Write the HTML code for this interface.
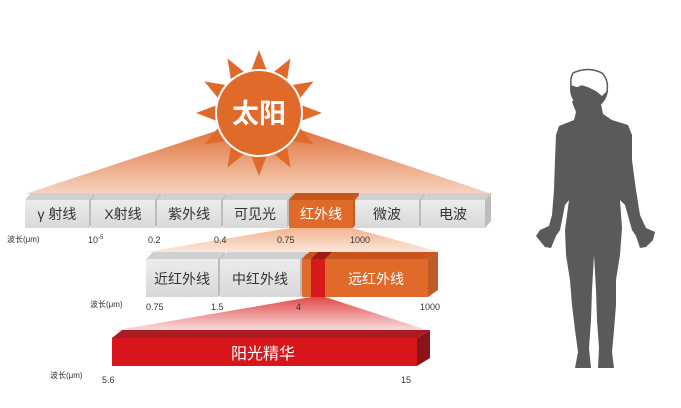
<!DOCTYPE html>
<html><head><meta charset="utf-8"><style>
html,body{margin:0;padding:0;background:#fff}
svg text{font-family:"Liberation Sans","Noto Sans CJK SC",sans-serif}
</style></head><body>
<svg width="681" height="403" viewBox="0 0 681 403" xmlns="http://www.w3.org/2000/svg">
<defs>
<linearGradient id="g1" x1="0" y1="0" x2="0" y2="1"><stop offset="0" stop-color="#e0703a"/><stop offset="1" stop-color="#f6d4c0"/></linearGradient>
<linearGradient id="g2" x1="0" y1="0" x2="0" y2="1"><stop offset="0" stop-color="#f3b48e"/><stop offset="1" stop-color="#fbe7dc"/></linearGradient>
<linearGradient id="g3" x1="0" y1="0" x2="0" y2="1"><stop offset="0" stop-color="#e04a4a"/><stop offset="1" stop-color="#fbe0e0"/></linearGradient>
<linearGradient id="gb" x1="0" y1="0" x2="0" y2="1"><stop offset="0" stop-color="#ececec"/><stop offset="1" stop-color="#d8d8d8"/></linearGradient>
</defs>
<polygon points="225,128 295,128 492,194 25,194" fill="url(#g1)"/>
<polygon points="290,228 352,228 440,252 146,252" fill="url(#g2)"/>
<polygon points="311,297 325,297 430,331 112,331" fill="url(#g3)"/>
<g transform="translate(259,113)" fill="#e06a2a">
<g id="ray"><polygon points="-8,-42 8,-42 0,-63"/></g>
<use href="#ray" transform="rotate(30)"/><use href="#ray" transform="rotate(60)"/><use href="#ray" transform="rotate(90)"/><use href="#ray" transform="rotate(120)"/><use href="#ray" transform="rotate(150)"/><use href="#ray" transform="rotate(180)"/><use href="#ray" transform="rotate(210)"/><use href="#ray" transform="rotate(240)"/><use href="#ray" transform="rotate(270)"/><use href="#ray" transform="rotate(300)"/><use href="#ray" transform="rotate(330)"/>
<circle r="43" fill="#e06a2a" stroke="#fff" stroke-width="2"/>
</g>
<text x="259" y="123" font-size="27" font-weight="bold" fill="#fff" text-anchor="middle">太阳</text>
<g>
<polygon points="25,200 31,193 95,193 89,200" fill="#d0d0d0"/><rect x="25" y="200" width="64" height="28" fill="url(#gb)"/><polygon points="89,200 95,193 95,221 89,228" fill="#bdbdbd"/>
<polygon points="91,200 97,193 161,193 155,200" fill="#d0d0d0"/><rect x="91" y="200" width="64" height="28" fill="url(#gb)"/><polygon points="155,200 161,193 161,221 155,228" fill="#bdbdbd"/>
<polygon points="157,200 163,193 227,193 221,200" fill="#d0d0d0"/><rect x="157" y="200" width="64" height="28" fill="url(#gb)"/><polygon points="221,200 227,193 227,221 221,228" fill="#bdbdbd"/>
<polygon points="223,200 229,193 293,193 287,200" fill="#d0d0d0"/><rect x="223" y="200" width="64" height="28" fill="url(#gb)"/><polygon points="287,200 293,193 293,221 287,228" fill="#bdbdbd"/>
<polygon points="289,200 295,193 359,193 353,200" fill="#c9551c"/><rect x="289" y="200" width="64" height="28" fill="#e06a2a"/><polygon points="353,200 359,193 359,221 353,228" fill="#c25a24"/>
<polygon points="355,200 361,193 425,193 419,200" fill="#d0d0d0"/><rect x="355" y="200" width="64" height="28" fill="url(#gb)"/><polygon points="419,200 425,193 425,221 419,228" fill="#bdbdbd"/>
<polygon points="421,200 427,193 491,193 485,200" fill="#d0d0d0"/><rect x="421" y="200" width="64" height="28" fill="url(#gb)"/><polygon points="485,200 491,193 491,221 485,228" fill="#bdbdbd"/>
</g>
<g font-size="14" fill="#333" text-anchor="middle">
<text x="57" y="219">γ 射线</text><text x="123" y="219">X射线</text><text x="189" y="219">紫外线</text><text x="255" y="219">可见光</text><text x="321" y="219" fill="#fff">红外线</text><text x="387" y="219">微波</text><text x="453" y="219">电波</text>
</g>
<g font-size="9" fill="#333">
<text x="7" y="242" font-size="8">波长(μm)</text>
<text x="88" y="243">10<tspan font-size="6" dy="-4">-5</tspan></text>
<text x="148" y="243">0.2</text><text x="214" y="243">0.4</text><text x="277" y="243">0.75</text><text x="350" y="243">1000</text>
</g>
<polygon points="146,259 153,252 225,252 218,259" fill="#d0d0d0"/><rect x="146" y="259" width="72" height="38" fill="url(#gb)"/><polygon points="218,259 225,252 225,290 218,297" fill="#bdbdbd"/>
<polygon points="220,259 227,252 307,252 300,259" fill="#d0d0d0"/><rect x="220" y="259" width="80" height="38" fill="url(#gb)"/><polygon points="300,259 307,252 307,290 300,297" fill="#bdbdbd"/>
<polygon points="302,259 309,252 438,252 428,259" fill="#c9551c"/><rect x="302" y="259" width="126" height="38" fill="#e06a2a"/><polygon points="428,259 438,252 438,290 428,297" fill="#c25a24"/>
<polygon points="311,259 318,252 332,252 325,259" fill="#a01a1a"/><rect x="311" y="259" width="14" height="38" fill="#d7191c"/>
<g font-size="14" fill="#333" text-anchor="middle">
<text x="182" y="284">近红外线</text><text x="260" y="284">中红外线</text><text x="376" y="284" fill="#fff">远红外线</text>
</g>
<g font-size="9" fill="#333">
<text x="90" y="307" font-size="8">波长(μm)</text>
<text x="146" y="310">0.75</text><text x="211" y="310">1.5</text><text x="296" y="310">4</text><text x="420" y="310">1000</text>
</g>
<polygon points="112,338 122,330 430,330 417,338" fill="#a81c22"/>
<rect x="112" y="338" width="305" height="28" fill="#d7151b"/>
<polygon points="417,338 430,330 430,358 417,366" fill="#8a1418"/>
<text x="263" y="359" font-size="16" fill="#fff" text-anchor="middle">阳光精华</text>
<g font-size="9" fill="#333">
<text x="50" y="378" font-size="8">波长(μm)</text>
<text x="102" y="383">5.6</text><text x="401" y="383">15</text>
</g>
<ellipse cx="589" cy="89" rx="19" ry="20" fill="#5a5a5a"/>
<path fill="#5a5a5a" d="M575,98 L572,102 L576,112 L574,120 L559,126 L556,135 L555,160 L554,190 L552,215 L549,226 L540,230 L536,236 L545,247 L551,248 L556,236 L560,230 L565,205 L569,200 L565,230 L566,255 L570,280 L572,305 L575,330 L578,352 L575,368 L591,368 L589,348 L591,320 L592,290 L594,255 L596,290 L597,320 L599,348 L598,368 L614,368 L612,352 L614,330 L616,305 L616,280 L620,255 L622,228 L620,200 L625,205 L632,230 L636,236 L640,248 L646,247 L653,240 L655,232 L646,228 L640,215 L636,190 L632,160 L632,135 L628,125 L612,120 L603,114 L601,104 L605,98 Z"/>
<path fill="#fff" stroke="#5a5a5a" stroke-width="1.5" d="M573,73 Q588,66 602,73 Q609,80 607,92 L602,97 L596,92 L588,88 L582,86 L577,88 L571,86 Q570,78 573,73 Z"/>
</svg>
</body></html>
